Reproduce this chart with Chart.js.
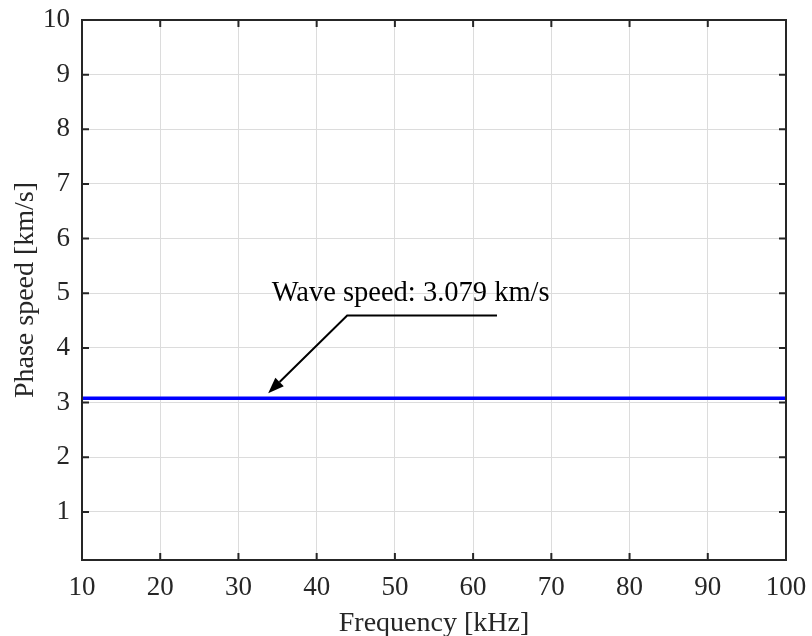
<!DOCTYPE html>
<html lang="en">
<head>
    <meta charset="UTF-8">
    <title>Phase speed</title>
    <script src="https://cdn.jsdelivr.net/npm/chart.js@4.4.1/dist/chart.umd.min.js"></script>
    <style>
        body { margin: 0; background: #fff; }
        #chart { width: 812px; height: 636px; }
    </style>
</head>
<body>
    <div id="chart">
        <canvas id="myChart" width="812" height="636"></canvas>
    </div>
    <script>
        // frequency [kHz] and phase speed [km/s]
        var freq  = [10, 20, 30, 40, 50, 60, 70, 80, 90, 100];
        var speed = [3.079, 3.079, 3.079, 3.079, 3.079, 3.079, 3.079, 3.079, 3.079, 3.079];

        // tick positions of both axes
        var xTicks = [10, 20, 30, 40, 50, 60, 70, 80, 90, 100];
        var yTicks = [1, 2, 3, 4, 5, 6, 7, 8, 9, 10];

        var noteText = 'Wave speed: 3.079 km/s';

        var axisColor = '#262626';
        var serif = '"Liberation Serif", "Times New Roman", serif';
        Chart.defaults.font.family = serif;
        Chart.defaults.color = axisColor;

        // where the arrow note sits, in axis units
        var note = {
            text: [34.25, 4.85],
            end:  [63.05, 4.594],
            bend: [43.9, 4.594],
            tip:  [33.8, 3.17]
        };

        // box around the plot with inward ticks on every side, plus the arrow note
        var framePlugin = {
            id: 'frame',
            afterDraw: function (chart) {
                var ctx = chart.ctx;
                var a = chart.chartArea;
                var xs = chart.scales.x, ys = chart.scales.y;
                var tl = 7;
                ctx.save();
                ctx.strokeStyle = axisColor;
                ctx.lineWidth = 2;
                ctx.beginPath();
                xTicks.forEach(function (v) {
                    var px = xs.getPixelForValue(v);
                    ctx.moveTo(px, a.bottom); ctx.lineTo(px, a.bottom - tl);
                    ctx.moveTo(px, a.top);    ctx.lineTo(px, a.top + tl);
                });
                yTicks.forEach(function (v) {
                    var py = ys.getPixelForValue(v);
                    ctx.moveTo(a.left, py);  ctx.lineTo(a.left + tl, py);
                    ctx.moveTo(a.right, py); ctx.lineTo(a.right - tl, py);
                });
                ctx.stroke();
                ctx.strokeRect(a.left, a.top, a.right - a.left, a.bottom - a.top);

                // note text and arrow
                ctx.fillStyle = '#000';
                ctx.strokeStyle = '#000';
                ctx.font = '28.5px ' + serif;
                ctx.textAlign = 'left';
                ctx.textBaseline = 'alphabetic';
                ctx.fillText(noteText, xs.getPixelForValue(note.text[0]), ys.getPixelForValue(note.text[1]));

                var ex = xs.getPixelForValue(note.end[0]),  ey = ys.getPixelForValue(note.end[1]);
                var bx = xs.getPixelForValue(note.bend[0]), by = ys.getPixelForValue(note.bend[1]);
                var tx = xs.getPixelForValue(note.tip[0]),  ty = ys.getPixelForValue(note.tip[1]);
                var ang = Math.atan2(ty - by, tx - bx);
                var hl = 16, hw = 6;
                var baseX = tx - hl * Math.cos(ang), baseY = ty - hl * Math.sin(ang);
                ctx.lineWidth = 2;
                ctx.beginPath();
                ctx.moveTo(ex, ey);
                ctx.lineTo(bx, by);
                ctx.lineTo(baseX, baseY);
                ctx.stroke();
                ctx.beginPath();
                ctx.moveTo(tx, ty);
                ctx.lineTo(baseX + hw * Math.sin(ang), baseY - hw * Math.cos(ang));
                ctx.lineTo(baseX - hw * Math.sin(ang), baseY + hw * Math.cos(ang));
                ctx.closePath();
                ctx.fill();
                ctx.restore();
            }
        };

        var ctx = document.getElementById('myChart').getContext('2d');

        var data = {
            datasets: [{
                label: 'Phase speed',
                data: freq.map(function (f, i) { return { x: f, y: speed[i] }; }),
                borderColor: '#0000ff',
                borderWidth: 3.5,
                pointRadius: 0,
                fill: false,
                tension: 0
            }]
        };

        var options = {
            responsive: false,
            animation: false,
            layout: { padding: { top: 20, right: 26, left: 0, bottom: 0 } },
            plugins: {
                legend: { display: false },
                tooltip: { enabled: false }
            },
            scales: {
                x: {
                    type: 'linear',
                    min: 10,
                    max: 100,
                    afterBuildTicks: function (scale) {
                        scale.ticks = xTicks.map(function (v) { return { value: v }; });
                    },
                    afterFit: function (scale) {
                        scale.height = 76;
                        scale.paddingLeft = 0;
                        scale.paddingRight = 0;
                    },
                    grid: { color: '#dcdcdc', lineWidth: 1, drawTicks: false },
                    border: { display: false },
                    ticks: { padding: 12, maxRotation: 0, font: { size: 27 }, color: axisColor },
                    title: {
                        display: true,
                        text: 'Frequency [kHz]',
                        font: { size: 28, lineHeight: 0.85 },
                        color: axisColor,
                        padding: { top: 0, bottom: 0 }
                    }
                },
                y: {
                    type: 'linear',
                    min: 0.12,
                    max: 10,
                    afterBuildTicks: function (scale) {
                        scale.ticks = yTicks.map(function (v) { return { value: v }; });
                    },
                    afterFit: function (scale) {
                        scale.width = 82;
                        scale.paddingTop = 0;
                        scale.paddingBottom = 0;
                    },
                    grid: { color: '#dcdcdc', lineWidth: 1, drawTicks: false },
                    border: { display: false },
                    ticks: { padding: 12, font: { size: 27 }, color: axisColor },
                    title: {
                        display: true,
                        text: 'Phase speed [km/s]',
                        font: { size: 28, lineHeight: 1 },
                        color: axisColor,
                        padding: { top: 12, bottom: 0 }
                    }
                }
            }
        };

        var myChart = new Chart(ctx, {
            type: 'line',
            data: data,
            options: options,
            plugins: [framePlugin]
        });
    </script>
</body>
</html>
